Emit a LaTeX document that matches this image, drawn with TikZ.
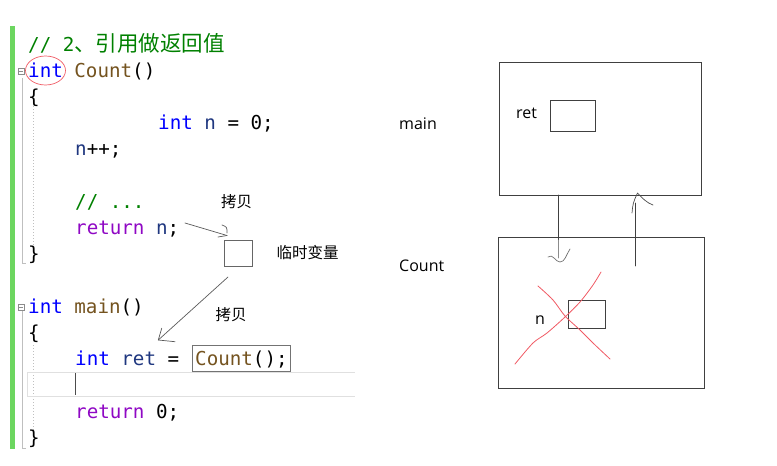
\documentclass[tikz,border=0pt]{standalone}
\usepackage{fontspec}
\newfontfamily\codefont{DejaVu Sans Mono}
\newfontfamily\cjk{Noto Sans CJK SC}
\newfontfamily\labfont{Open Sans}
\definecolor{kw}{RGB}{0,0,255}
\definecolor{fn}{RGB}{116,83,31}
\definecolor{var}{RGB}{31,55,127}
\definecolor{ctl}{RGB}{143,8,196}
\definecolor{cmt}{RGB}{0,128,0}
\definecolor{bar}{RGB}{108,214,96}
\definecolor{xred}{RGB}{240,90,100}
\begin{document}
\begin{tikzpicture}[x=1pt,y=-1pt,
  code/.style={anchor=base west,inner sep=0pt,font=\codefont\fontsize{19.2}{20}\selectfont},
  lab/.style={inner sep=0pt,font=\cjk\fontsize{15.5}{16}\selectfont},
  slab/.style={anchor=base west,inner sep=0pt,font=\labfont\fontsize{16}{17}\selectfont},
  frame/.style={draw=black!75,line width=0.9pt,inner sep=0pt},
  hand/.style={draw=black!65,line width=0.7pt,line cap=round,line join=round},
  foldbox/.style={draw=black!45,line width=0.5pt,inner sep=0pt,minimum size=6pt},
  guide/.style={draw=black!25,line width=0.8pt}]
\useasboundingbox (0,0) rectangle (777,466);
% editor decorations
\fill[bar] (10,26) rectangle (15,449);
\draw[guide] (22,78) -- (22,263) -- (26,263);
\draw[guide] (22,311) -- (22,448) -- (26,448);
\draw[black!25,line width=0.6pt,dash pattern=on 1pt off 2pt] (33,106) -- (33,245);
\draw[black!25,line width=0.6pt,dash pattern=on 1pt off 2pt] (33,345) -- (33,432);
\node[foldbox] (f1) at (21.5,71.5) {};
\draw[black!45,line width=0.5pt] (f1.west) ++(1,0) -- ++(4,0);
\node[foldbox] (f2) at (21.5,307.5) {};
\draw[black!45,line width=0.5pt] (f2.west) ++(1,0) -- ++(4,0);
\draw[black!12,line width=0.8pt] (355,372) -- (27,372) -- (27,396) -- (355,396);
\draw[black!70,line width=0.8pt] (75,373) -- (75,395);
% code
\node[code] (l0) at (28,51) {\textcolor{cmt}{// 2{\cjk\fontsize{21.5}{22}\selectfont 、引用做返回值}}};
\node[code] (l1) at (28,77.2) {\textcolor{kw}{int} \textcolor{fn}{Count}()};
\node[code] (l2) at (28,103.5) {\{};
\node[code] (l3) at (158,129.7) {\textcolor{kw}{int} \textcolor{var}{n} = 0;};
\node[code] (l4) at (75,155.9) {\textcolor{var}{n}++;};
\node[code] (l6) at (75,208.4) {\textcolor{cmt}{// ...}};
\node[code] (l7) at (75,234.6) {\textcolor{ctl}{return} \textcolor{var}{n};};
\node[code] (l8) at (28,260.8) {\}};
\node[code] (l10) at (28,313.3) {\textcolor{kw}{int} \textcolor{fn}{main}()};
\node[code] (l11) at (28,339.5) {\{};
\node[code] (l12) at (75,365.8) {\textcolor{kw}{int} \textcolor{var}{ret} = };
\node[code] (l12b) at (195,365.8) {\textcolor{fn}{Count}();};
\node[code] (l14) at (75,418.2) {\textcolor{ctl}{return} 0;};
\node[code] (l15) at (28,444.5) {\}};
\draw[black!55,line width=0.8pt] (192,345) rectangle (290,371);
\draw[xred,line width=0.7pt] (45.5,70.5) ellipse [x radius=20, y radius=14.5];
% temp variable
\node[draw=black!60,line width=0.8pt,minimum width=28pt,minimum height=26pt,inner sep=0pt] (tmp) at (238,253) {};
\node[lab] (c1) at (236.5,202) {拷贝};
\node[lab] (tv) at (307.5,253) {临时变量};
\node[lab] (c2) at (231,315) {拷贝};
\coordinate (a1s) at (185,223);
\coordinate (a1e) at (227,235.5);
\draw[hand] (a1s) -- (a1e);
\draw[hand] (222,225) .. controls (227,227) .. (227,233);
\draw[hand] (218,237) -- (a1e);
\coordinate (a2s) at (228,277);
\coordinate (a2e) at (158.3,340);
\draw[hand] (a2s) -- (a2e);
\draw[hand] (161.7,328.3) -- (a2e) -- (175,341.7);
% right diagram
\node[frame,minimum width=202pt,minimum height=133pt] (mainbox) at (600,128.5) {};
\node[frame,minimum width=45pt,minimum height=31pt] (retbox) at (572.5,115.5) {};
\node[frame,minimum width=206pt,minimum height=151pt] (countbox) at (601,312.5) {};
\node[frame,minimum width=37pt,minimum height=28pt] (nbox) at (586.5,314) {};
\node[slab] (mainlab) at (399,129) {main};
\node[slab] (retlab) at (516,118) {ret};
\node[slab] (countlab) at (399,271) {Count};
\node[slab] (nlab) at (535,324) {n};
% arrows between frames
\coordinate (d1) at (558,195);
\coordinate (d2) at (558,258);
\draw[hand,draw=black!75] (d1) -- (558,240);
\draw[hand,draw=black!45] (558,240) -- (d2);
\draw[hand,draw=black!55] (548,257) .. controls (553,253) and (555,262) .. (560,262) .. controls (565,262) and (566,255) .. (570,249);
\coordinate (u1) at (635,266);
\coordinate (u2) at (635,203);
\draw[hand,draw=black!75] (u1) -- (u2);
\draw[hand,draw=black!70] (632,213) .. controls (633,203) .. (637.5,193) .. controls (642,198) and (647,203) .. (653,205);
% red cross
\draw[xred,line width=0.8pt,line cap=round] plot[smooth] coordinates {(538,286) (553,300) (565,316) (580,330) (593,343) (610,359)};
\draw[xred,line width=0.8pt,line cap=round] plot[smooth] coordinates {(601,272) (593,285) (580,302) (565,317) (547,333) (533,343) (515,364)};
\end{tikzpicture}
\end{document}
